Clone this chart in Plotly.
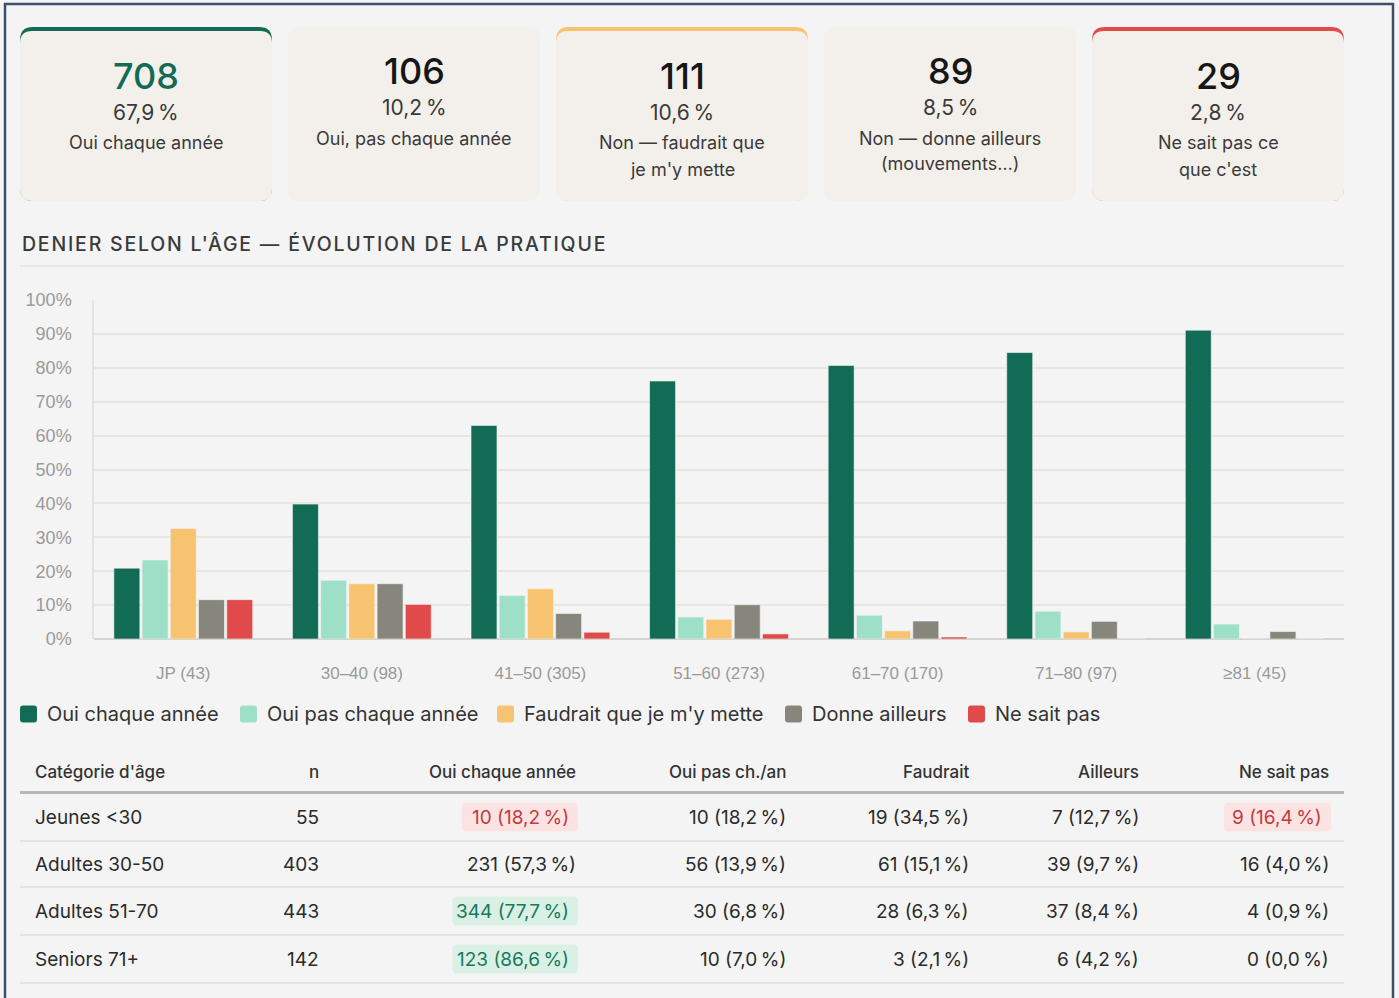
import plotly.graph_objects as go

W, H = 1399, 998

# ---- data -------------------------------------------------------------
kpi_counts = [708, 106, 111, 89, 29]
kpi_labels = ["Oui chaque année", "Oui, pas chaque année",
              "Non — faudrait que\nje m'y mette",
              "Non — donne ailleurs\n(mouvements…)",
              "Ne sait pas ce\nque c'est"]

age_groups = ["JP (43)", "30–40 (98)", "41–50 (305)", "51–60 (273)",
              "61–70 (170)", "71–80 (97)", "≥81 (45)"]
series_names = ["Oui chaque année", "Oui pas chaque année",
                "Faudrait que je m'y mette", "Donne ailleurs", "Ne sait pas"]
oui_chaque = [20.9, 39.8, 63.0, 76.1, 80.7, 84.5, 91.1]
oui_pas_chaque = [23.3, 17.3, 12.8, 6.5, 7.0, 8.2, 4.4]
faudrait = [32.6, 16.3, 14.8, 5.8, 2.4, 2.1, 0.0]
donne_ailleurs = [11.6, 16.3, 7.5, 10.1, 5.3, 5.2, 2.2]
ne_sait_pas = [11.6, 10.2, 2.0, 1.5, 0.6, 0.0, 0.0]

table_headers = ["Catégorie d'âge", "n", "Oui chaque année", "Oui pas ch./an",
                 "Faudrait", "Ailleurs", "Ne sait pas"]
table_categories = ["Jeunes <30", "Adultes 30-50", "Adultes 51-70", "Seniors 71+"]
table_n = [55, 403, 443, 142]
table_oui_chaque = [10, 231, 344, 123]
table_oui_pas = [10, 56, 30, 10]
table_faudrait = [19, 61, 28, 3]
table_ailleurs = [7, 39, 37, 6]
table_ne_sait_pas = [9, 16, 4, 0]

# ---- style ------------------------------------------------------------
GREEN = "#126b55"
MINT = "#9de0c7"
ORANGE = "#f8c370"
GREY = "#87867c"
RED = "#e04a4a"
series_colors = [GREEN, MINT, ORANGE, GREY, RED]
UI = "Inter"
TXT = "#2b2b2b"
NNBSP = "\u202f"


def X(px):
    return px / W


def Y(py):
    return 1 - py / H


def rounded_path(x0, y0, x1, y1, r):
    """Rounded rectangle path in paper coordinates from pixel bounds."""
    rx, ry = r / W, r / H
    a, b, c, d = X(x0), X(x1), Y(y0), Y(y1)
    return (f"M{a + rx},{c} L{b - rx},{c} Q{b},{c} {b},{c - ry} "
            f"L{b},{d + ry} Q{b},{d} {b - rx},{d} L{a + rx},{d} "
            f"Q{a},{d} {a},{d + ry} L{a},{c - ry} Q{a},{c} {a + rx},{c} Z")


shapes, annotations = [], []


def text(px, py, s, size, color=TXT, weight=400, xanchor="center",
         family=UI):
    annotations.append(dict(
        x=X(px), y=Y(py), xref="paper", yref="paper", text=s,
        showarrow=False, xanchor=xanchor, yanchor="middle",
        font=dict(family=family, size=size, color=color, weight=weight)))


def fr_pct(count, n):
    return f"{count / n * 100:.1f}".replace(".", ",") + NNBSP + "%"


# outer frame
shapes.append(dict(type="rect", xref="paper", yref="paper",
                   x0=X(5), x1=X(1393), y0=Y(1010), y1=Y(4),
                   line=dict(color="#3c4e69", width=2.5)))

# ---- KPI cards ----------------------------------------------------------
total = sum(kpi_counts)
card_accents = [GREEN, None, ORANGE, None, RED]
card_w, card_pitch, card_left = 252, 268, 20
for i, cnt in enumerate(kpi_counts):
    x0 = card_left + i * card_pitch
    x1 = x0 + card_w
    cx = (x0 + x1) / 2
    acc = card_accents[i]
    if acc:
        shapes.append(dict(type="path", xref="paper", yref="paper",
                           path=rounded_path(x0, 27, x1, 201, 13),
                           fillcolor=acc, line=dict(width=0)))
        shapes.append(dict(type="path", xref="paper", yref="paper",
                           path=rounded_path(x0, 31, x1, 201, 12),
                           fillcolor="#f3f0eb", line=dict(width=0)))
        dy = 5
    else:
        shapes.append(dict(type="path", xref="paper", yref="paper",
                           path=rounded_path(x0, 27, x1, 201, 12),
                           fillcolor="#f3f0eb", line=dict(width=0)))
        dy = 0
    num_color = GREEN if i == 0 else "#161616"
    text(cx, 71 + dy, str(cnt), 36, num_color, 500)
    text(cx, 107 + dy, fr_pct(cnt, total), 21, "#3a3a3a")
    for j, line in enumerate(kpi_labels[i].split("\n")):
        text(cx, 138 + dy + 26 * j, line, 18, "#3a3a3a")

# ---- section title ------------------------------------------------------
text(20, 244,
     "<span style='letter-spacing:1.8px'>DENIER SELON L'ÂGE — "
     "ÉVOLUTION DE LA PRATIQUE</span>", 19.5, "#3a3a3a", 500, xanchor="left")
shapes.append(dict(type="line", xref="paper", yref="paper",
                   x0=X(20), x1=X(1344), y0=Y(266), y1=Y(266),
                   line=dict(color="#e5e3dc", width=1.5)))

# ---- grouped bars -------------------------------------------------------
fig = go.Figure()
for name, vals, col in zip(series_names,
                           [oui_chaque, oui_pas_chaque, faudrait,
                            donne_ailleurs, ne_sait_pas], series_colors):
    fig.add_trace(go.Bar(x=age_groups, y=vals, name=name, marker_color=col,
                         marker_line=dict(color="#f4f4f4", width=0.6),
                         showlegend=False,
                         hovertemplate="%{x}<br>" + name + ": %{y}%<extra></extra>"))

# legend row drawn as swatches + labels
legend_x = [20, 240, 497, 785, 968]
for name, col, lx in zip(series_names, series_colors, legend_x):
    shapes.append(dict(type="path", xref="paper", yref="paper",
                       path=rounded_path(lx, 705.5, lx + 17, 722.5, 3),
                       fillcolor=col, line=dict(width=0)))
    text(lx + 25, 714, name, 20, "#333333", xanchor="left")

# ---- table --------------------------------------------------------------
col_right = [None, 321, 578, 788, 971, 1141, 1331]
for k, h in enumerate(table_headers):
    if k == 0:
        text(33, 772, h, 17, "#333333", 500, xanchor="left")
    else:
        text(col_right[k], 772, h, 17, "#333333", 500, xanchor="right")
shapes.append(dict(type="line", xref="paper", yref="paper",
                   x0=X(20), x1=X(1344), y0=Y(792.5), y1=Y(792.5),
                   line=dict(color="#b8b8b6", width=3)))

row_y = [817, 864, 911, 959]
sep_y = [841, 887, 935, 983]

value_cols = [table_oui_chaque, table_oui_pas, table_faudrait,
              table_ailleurs, table_ne_sait_pas]
for r, cat in enumerate(table_categories):
    y = row_y[r]
    n = table_n[r]
    text(33, y, cat, 19, TXT, xanchor="left")
    text(col_right[1], y, str(n), 19, TXT, xanchor="right")
    for c, col_vals in enumerate(value_cols):
        k = c + 2
        s = f"{col_vals[r]} ({fr_pct(col_vals[r], n)})"
        share = col_vals[r] / n * 100
        style = None
        if k == 2 and share < 30:
            style = ("#fbe3e3", "#c23b3b")
        elif k == 2 and share > 70:
            style = ("#daf0e5", "#177a5c")
        elif k == 6 and share > 10:
            style = ("#fbe3e3", "#c23b3b")
        if style:
            w = 9.3 * len(s) + 14
            shapes.append(dict(type="path", xref="paper", yref="paper",
                               path=rounded_path(col_right[k] - w, y - 14.5,
                                                 col_right[k], y + 14.5, 5),
                               fillcolor=style[0], line=dict(width=0)))
            text(col_right[k] - 7, y, s, 19, style[1], xanchor="right")
        else:
            text(col_right[k], y, s, 19, TXT, xanchor="right")
    shapes.append(dict(type="line", xref="paper", yref="paper",
                       x0=X(20), x1=X(1344), y0=Y(sep_y[r]), y1=Y(sep_y[r]),
                       line=dict(color="#e3e3e1", width=2)))

fig.update_layout(
    width=W, height=H, autosize=False,
    margin=dict(l=0, r=0, t=0, b=0),
    paper_bgcolor="#f4f4f4", plot_bgcolor="rgba(0,0,0,0)",
    barmode="group", bargap=0.21, bargroupgap=0.08,
    shapes=shapes, annotations=annotations,
    xaxis=dict(domain=[X(94), X(1344)], showgrid=False, showline=False,
               zeroline=False, ticks="", ticklabelstandoff=22, automargin=False,
               tickfont=dict(family="Liberation Sans", size=17, color="#9a9a9a")),
    yaxis=dict(domain=[Y(639), Y(300)], range=[0, 100], dtick=10,
               ticksuffix="%", showgrid=True, gridcolor="#e8e6e0", gridwidth=1.5,
               zeroline=True, zerolinecolor="#d6d4ce", zerolinewidth=2,
               showline=True, linecolor="#e4e2dc", linewidth=1.5,
               ticks="", ticklabelstandoff=17, automargin=False,
               tickfont=dict(family="Liberation Sans", size=18, color="#9a9a9a")),
)

fig.write_html(
    "out.html",
    post_script=("document.documentElement.style.margin='0';"
                 "document.documentElement.style.overflow='hidden';"
                 "document.body.style.margin='0';"
                 "document.body.style.overflow='hidden';"
                 "document.body.style.background='#f4f4f4';"))
